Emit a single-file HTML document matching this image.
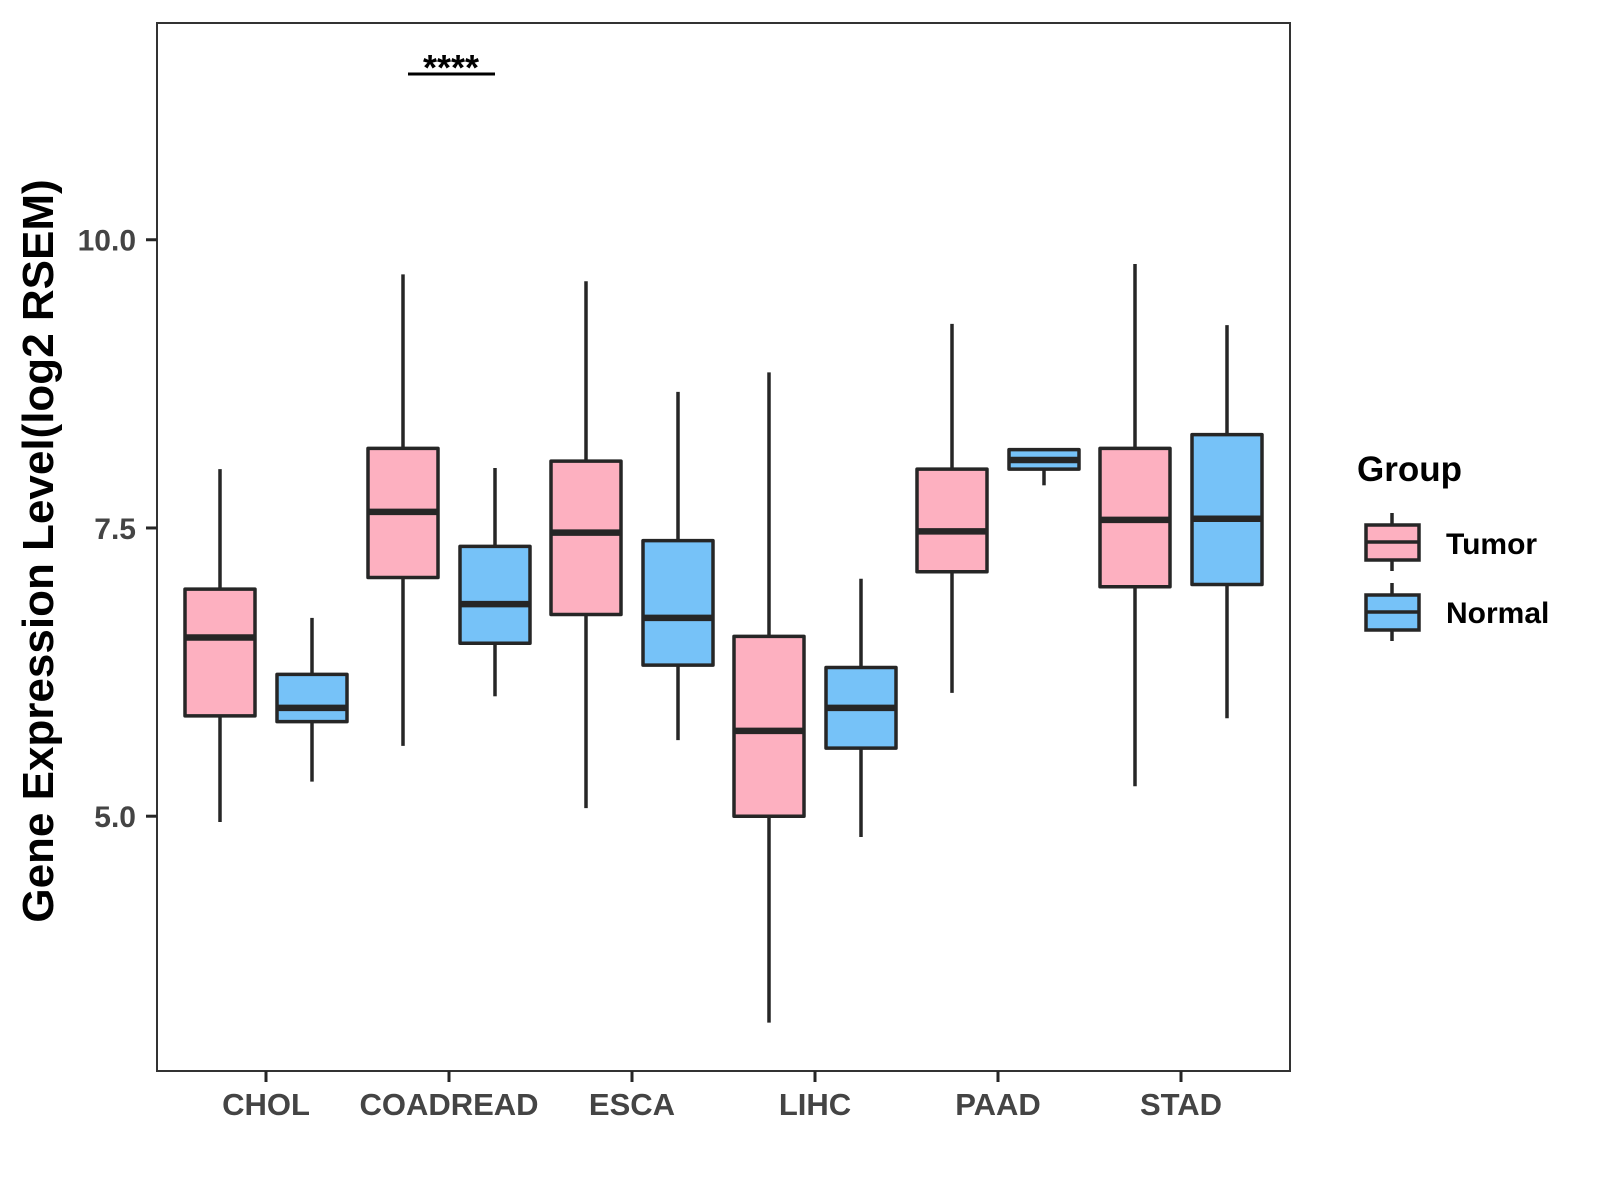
<!DOCTYPE html>
<html><head><meta charset="utf-8"><style>
html,body{margin:0;padding:0;background:#fff;}
svg{display:block;font-family:"Liberation Sans",Arial,sans-serif;}
</style></head><body>
<svg id="chart" width="1600" height="1200"></svg>
<script>
const categories=["CHOL","COADREAD","ESCA","LIHC","PAAD","STAD"];
const tumorStats=[[4.95,5.87,6.55,6.97,8.01],[5.61,7.07,7.64,8.19,9.70],[5.07,6.75,7.46,8.08,9.64],[3.21,5.00,5.74,6.56,8.85],[6.07,7.12,7.47,8.01,9.27],[5.26,6.99,7.57,8.19,9.79]];
const normalStats=[[5.30,5.82,5.94,6.23,6.72],[6.04,6.50,6.84,7.34,8.02],[5.66,6.31,6.72,7.39,8.68],[4.82,5.59,5.94,6.29,7.06],[7.87,8.01,8.09,8.18,8.19],[5.85,7.01,7.58,8.31,9.26]];
const yTicks=[5.0,7.5,10.0];
const yTickLabels=["5.0","7.5","10.0"];
const NS="http://www.w3.org/2000/svg";
const svg=document.getElementById("chart");
const L=157,R=1290,T=23,B=1071;
const yMin=2.79,yMax=11.88;
function y(v){return B-(v-yMin)/(yMax-yMin)*(B-T);}
function x(i){return 266+i*183.0;}
function el(tag,attrs,parent){const e=document.createElementNS(NS,tag);for(const k in attrs)e.setAttribute(k,attrs[k]);(parent||svg).appendChild(e);return e;}
const ink="#262626";
const panel=el("rect",{x:L,y:T,width:R-L,height:B-T,fill:"none",stroke:"#333",'stroke-width':2});


yTicks.forEach((v,i)=>{
  const t=el("line",{x1:146,x2:L,y1:y(v),y2:y(v),stroke:ink,'stroke-width':3});
  
  
  const tx=el("text",{x:136,y:y(v)+11,'text-anchor':'end','font-size':30,'font-weight':'bold',fill:'#444'});
  tx.textContent=yTickLabels[i];
  
  
});
categories.forEach((c,i)=>{
  const t=el("line",{x1:x(i),x2:x(i),y1:B,y2:B+11,stroke:ink,'stroke-width':3});
  
  
  const tx=el("text",{x:x(i),y:1115,'text-anchor':'middle','font-size':31,'font-weight':'bold',fill:'#444'});
  tx.textContent=c;
  
  
});
function box(cx,s,fill,name){
  const g=el("g",{});
  
  
  const w=70;
  el("line",{x1:cx,x2:cx,y1:y(s[4]),y2:y(s[3]),stroke:ink,'stroke-width':3.5},g);
  el("line",{x1:cx,x2:cx,y1:y(s[1]),y2:y(s[0]),stroke:ink,'stroke-width':3.5},g);
  el("rect",{x:cx-w/2,y:y(s[3]),width:w,height:y(s[1])-y(s[3]),fill:fill,stroke:ink,'stroke-width':3.5,'stroke-linejoin':'round'},g);
  el("line",{x1:cx-w/2,x2:cx+w/2,y1:y(s[2]),y2:y(s[2]),stroke:ink,'stroke-width':6.5},g);
}
categories.forEach((c,i)=>{
  box(x(i)-46,tumorStats[i],"#FDB0C0","box-tumor-"+c.toLowerCase());
  box(x(i)+46,normalStats[i],"#76C2F8","box-normal-"+c.toLowerCase());
});
const sl=el("line",{x1:408,x2:495,y1:74,y2:74,stroke:"#000",'stroke-width':3});


const st=el("text",{x:451,y:80,'text-anchor':'middle','font-size':36,'font-weight':'bold',fill:'#000'});
st.textContent="****";


</script>
<svg style="position:absolute;left:0;top:0" width="1600" height="1200">
<text transform="translate(53,551) rotate(-90)" text-anchor="middle" font-size="44" font-weight="bold" fill="#000" font-family="Liberation Sans, Arial, sans-serif">Gene Expression Level(log2 RSEM)</text>
<text x="1357" y="481" font-size="35" font-weight="bold" fill="#000" font-family="Liberation Sans, Arial, sans-serif">Group</text>
<g>
<line x1="1392" x2="1392" y1="513" y2="571" stroke="#262626" stroke-width="3.5"/>
<rect x="1366" y="525" width="53" height="35" fill="#FDB0C0" stroke="#262626" stroke-width="3.5"/>
<line x1="1366" x2="1419" y1="542" y2="542" stroke="#262626" stroke-width="3.5"/>
<text x="1446" y="554" font-size="30" font-weight="bold" fill="#000" font-family="Liberation Sans, Arial, sans-serif">Tumor</text>
</g>
<g>
<line x1="1392" x2="1392" y1="583" y2="641" stroke="#262626" stroke-width="3.5"/>
<rect x="1366" y="595" width="53" height="35" fill="#76C2F8" stroke="#262626" stroke-width="3.5"/>
<line x1="1366" x2="1419" y1="612" y2="612" stroke="#262626" stroke-width="3.5"/>
<text x="1446" y="623" font-size="30" font-weight="bold" fill="#000" font-family="Liberation Sans, Arial, sans-serif">Normal</text>
</g>
</svg>
</body></html>
